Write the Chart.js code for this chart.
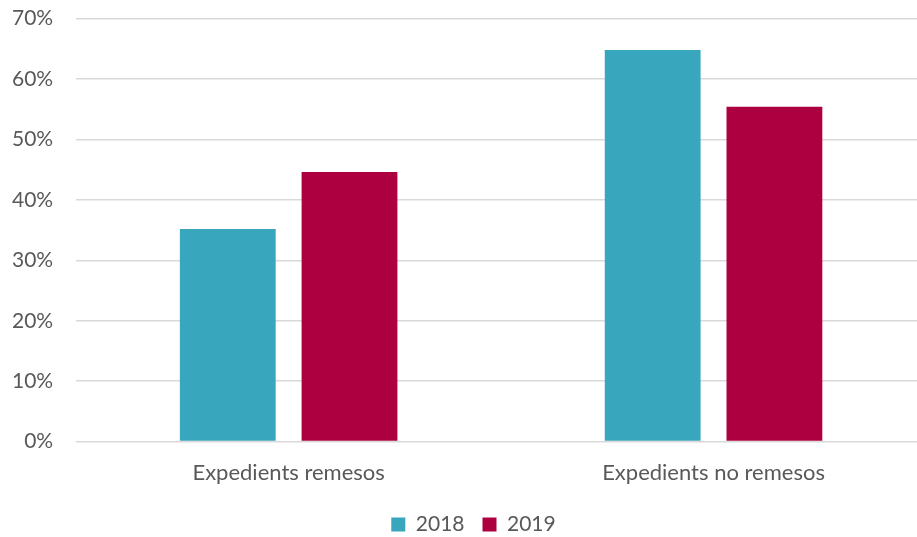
<!DOCTYPE html>
<html>
<head>
<meta charset="utf-8">
<script src="https://cdn.jsdelivr.net/npm/chart.js@4"></script>
<style>
  html, body { margin: 0; padding: 0; background: #fff; overflow: hidden; }
  #wrap { width: 926px; height: 554px; margin-top: -17px; }
</style>
</head>
<body>
<div id="wrap"><canvas id="expChart"></canvas></div>
<script>
const categories = ["Expedients remesos", "Expedients no remesos"];
const values2018 = [35.2, 64.8];
const values2019 = [44.6, 55.4];
const seriesNames = ["2018", "2019"];

const textColor = "#595959";
const fontFamily = "Lato, 'Open Sans', sans-serif";

// nudge the legend a little right, like the original
const legendShift = {
    id: "legendShift",
    afterLayout(chart) {
        chart.legend.left += 16;
        chart.legend.right += 16;
    }
};

const ctx = document.getElementById("expChart").getContext("2d");
new Chart(ctx, {
    type: "bar",
    data: {
        labels: categories,
        datasets: [{
            label: seriesNames[0],
            data: values2018,
            backgroundColor: "#38A6BC",
            categoryPercentage: 0.573,
            barPercentage: 0.787
        }, {
            label: seriesNames[1],
            data: values2019,
            backgroundColor: "#AD0041",
            categoryPercentage: 0.573,
            barPercentage: 0.787
        }]
    },
    options: {
        responsive: true,
        maintainAspectRatio: false,
        animation: false,
        layout: { padding: { top: 0, left: -11, right: 0, bottom: -8 } },
        scales: {
            x: {
                grid: { display: false },
                border: { display: false },
                ticks: { color: textColor, font: { family: fontFamily, size: 22 }, padding: 10 }
            },
            y: {
                min: 0,
                max: 70,
                ticks: {
                    stepSize: 10,
                    color: textColor,
                    font: { family: fontFamily, size: 21 },
                    padding: 23,
                    callback: v => v + "%"
                },
                grid: { color: "#d9d9d9", lineWidth: 1.5, drawTicks: false },
                border: { display: false }
            }
        },
        plugins: {
            legend: {
                position: "bottom",
                labels: {
                    color: textColor,
                    font: { family: fontFamily, size: 21 },
                    boxWidth: 14,
                    boxHeight: 14,
                    padding: 18
                }
            },
            tooltip: { enabled: false }
        }
    },
    plugins: [legendShift]
});
</script>
</body>
</html>
